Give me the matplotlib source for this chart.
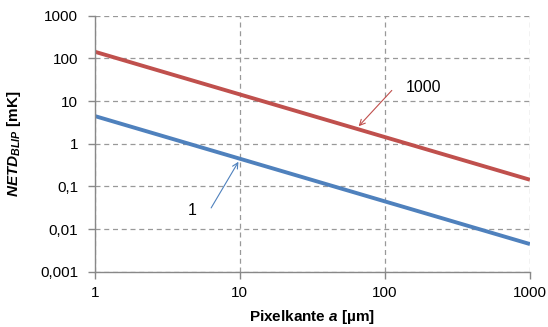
import matplotlib.pyplot as plt
from matplotlib.ticker import FixedLocator, FixedFormatter, NullLocator

plt.rcParams['font.family'] = ['Liberation Sans', 'DejaVu Sans']
plt.rcParams['mathtext.fontset'] = 'custom'
plt.rcParams['mathtext.it'] = 'Liberation Sans:bold:italic'
plt.rcParams['mathtext.rm'] = 'Liberation Sans:bold'

# pixel edge a [µm]
pixel_edge = [1, 10, 100, 1000]
# NETD_BLIP [mK] for the two curves
netd_1000 = [143, 14.3, 1.43, 0.143]
netd_1 = [4.45, 0.445, 0.0445, 0.00445]

y_ticks = [0.001, 0.01, 0.1, 1, 10, 100, 1000]
y_tick_labels = ['0,001', '0,01', '0,1', '1', '10', '100', '1000']
x_ticks = [1, 10, 100, 1000]
x_tick_labels = ['1', '10', '100', '1000']

red = '#C0504D'
blue = '#4F81BD'
grey = '#888888'

fig = plt.figure(figsize=(5.48, 3.27), dpi=100)
ax = fig.add_axes([0.173, 0.169, 0.794, 0.783])

ax.plot(pixel_edge, netd_1000, color=red, lw=2.8, solid_capstyle='butt')
ax.plot(pixel_edge, netd_1, color=blue, lw=2.8, solid_capstyle='butt')

ax.set_xscale('log')
ax.set_yscale('log')
ax.set_xlim(1, 1000)
ax.set_ylim(0.001, 1000)

ax.xaxis.set_major_locator(FixedLocator(x_ticks))
ax.xaxis.set_major_formatter(FixedFormatter(x_tick_labels))
ax.yaxis.set_major_locator(FixedLocator(y_ticks))
ax.yaxis.set_major_formatter(FixedFormatter(y_tick_labels))
ax.xaxis.set_minor_locator(NullLocator())
ax.yaxis.set_minor_locator(NullLocator())

ax.grid(True, which='major', color='#999999', linestyle=(0, (4, 3)), lw=0.9)
ax.set_axisbelow(True)
for s in ['top', 'right']:
    ax.spines[s].set_visible(False)
for s in ['left', 'bottom']:
    ax.spines[s].set_color(grey)
    ax.spines[s].set_linewidth(1.0)
ax.tick_params(axis='both', colors=grey, labelcolor='black', labelsize=11,
               length=5, width=1.0, direction='out')
ax.tick_params(axis='y', pad=7)
ax.tick_params(axis='x', pad=5)

ax.set_xlabel('Pixelkante $\\mathit{a}$ [µm]', fontsize=11, fontweight='bold')
ax.set_ylabel('$\\mathit{NETD}_{\\mathit{BLIP}}$ [mK]', fontsize=11,
              fontweight='bold')
ax.xaxis.set_label_coords(0.5, -0.142)
ax.yaxis.set_label_coords(-0.165, 0.5)

ax.annotate('', xy=(64, 2.3), xytext=(115, 19.8),
            arrowprops=dict(arrowstyle='->', color=red, lw=0.8))
ax.text(140, 21, '1000', fontsize=11.5, va='center', ha='left')
ax.annotate('', xy=(10, 0.43), xytext=(6.2, 0.0275),
            arrowprops=dict(arrowstyle='->', color=blue, lw=0.8))
ax.text(5.0, 0.027, '1', fontsize=11.5, va='center', ha='right')

fig.savefig('out.png', dpi=100)
